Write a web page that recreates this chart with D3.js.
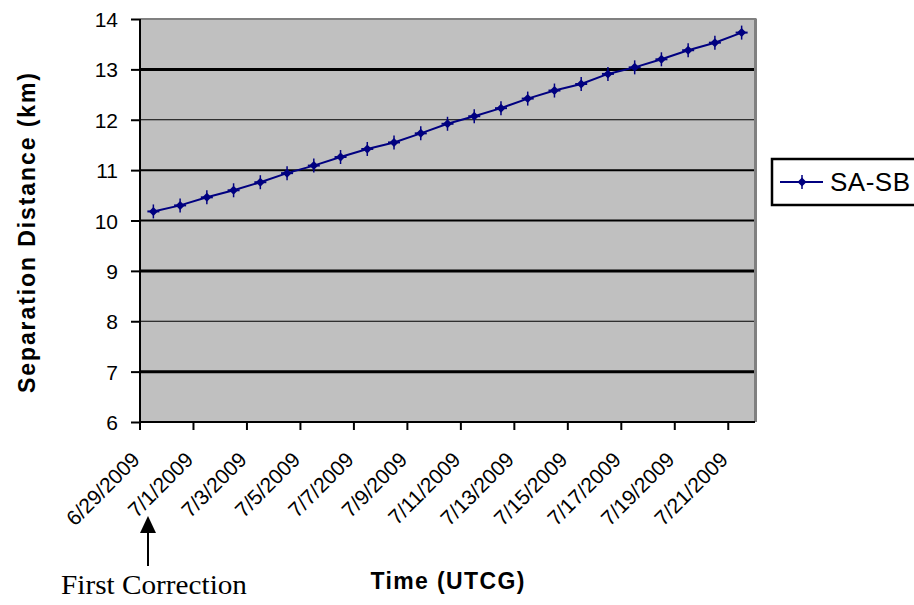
<!DOCTYPE html>
<html>
<head>
<meta charset="utf-8">
<script src="https://cdn.jsdelivr.net/npm/d3@7"></script>
<style>
  html, body { margin: 0; padding: 0; background: #fff; }
  svg { display: block; }
  text { font-family: Arial, "Liberation Sans", sans-serif; }
  text.serif { font-family: "Times New Roman", "Liberation Serif", serif; }
</style>
</head>
<body>
<svg id="chart" width="914" height="605"></svg>
<script>
// ---- data ----
const categories = [
  "6/29/2009","6/30/2009","7/1/2009","7/2/2009","7/3/2009","7/4/2009","7/5/2009",
  "7/6/2009","7/7/2009","7/8/2009","7/9/2009","7/10/2009","7/11/2009","7/12/2009",
  "7/13/2009","7/14/2009","7/15/2009","7/16/2009","7/17/2009","7/18/2009","7/19/2009",
  "7/20/2009","7/21/2009"
];
const separation = [
  10.18, 10.30, 10.46, 10.60, 10.76, 10.94, 11.09, 11.26, 11.42, 11.55, 11.73, 11.92,
  12.07, 12.23, 12.42, 12.58, 12.71, 12.91, 13.04, 13.20, 13.38, 13.53, 13.73
];
const yTicks = [6, 7, 8, 9, 10, 11, 12, 13, 14];
const xTickLabels = categories.filter((d, i) => i % 2 === 0);
const seriesName = "SA-SB";
const xTitle = "Time (UTCG)";
const yTitle = "Separation Distance (km)";
const note = "First Correction";

// ---- layout ----
const svg = d3.select("#chart");
const L = 140, R = 755, T = 19, B = 422;
const navy = "#000080";

const x = d3.scaleBand().domain(categories).range([L, R]).paddingInner(0).paddingOuter(0);
const y = d3.scaleLinear().domain([6, 14]).range([B, T]);
const bw = x.bandwidth();

// plot background
svg.append("rect").attr("x", L).attr("y", T).attr("width", R - L).attr("height", B - T)
  .attr("fill", "#c0c0c0");

// gridlines (rendering weights vary in the original)
const gridW = {7: 3, 8: 1, 9: 3, 10: 2, 11: 2, 12: 1, 13: 3};
svg.append("g").selectAll("line").data(yTicks.filter(d => d > 6 && d < 14)).join("line")
  .attr("x1", L).attr("x2", R)
  .attr("y1", d => y(d)).attr("y2", d => y(d))
  .attr("stroke", "#000").attr("stroke-width", d => gridW[d]);

// top & right border (gray)
svg.append("line").attr("x1", L).attr("x2", R + 1.5).attr("y1", T).attr("y2", T)
  .attr("stroke", "#808080").attr("stroke-width", 2);
svg.append("line").attr("x1", R + 0.5).attr("x2", R + 0.5).attr("y1", T).attr("y2", B)
  .attr("stroke", "#808080").attr("stroke-width", 3);

// y axis
const yAxis = svg.append("g").attr("transform", `translate(${L},0)`)
  .call(d3.axisLeft(y).tickValues(yTicks).tickSize(9).tickPadding(13).tickFormat(d3.format("d")));
yAxis.select(".domain").attr("stroke", "#000").attr("stroke-width", 2).attr("d", `M0,${T}V${B + 8}`);
yAxis.selectAll(".tick line").attr("stroke", "#000").attr("stroke-width", 2);
yAxis.selectAll(".tick text").attr("font-size", 21).attr("fill", "#000")
  .style("font-family", "Arial, 'Liberation Sans', sans-serif").attr("dy", "0.36em");

// x axis
const xAxis = svg.append("g").attr("transform", `translate(0,${B})`)
  .call(d3.axisBottom(x).tickValues(xTickLabels).tickSize(8).tickPadding(0));
xAxis.select(".domain").attr("stroke", "#000").attr("stroke-width", 2).attr("d", `M${L - 1},0H${R}`);
xAxis.selectAll(".tick line").attr("stroke", "#000").attr("stroke-width", 2)
  .attr("x1", -bw / 2).attr("x2", -bw / 2);
xAxis.selectAll(".tick text")
  .attr("font-size", 21).attr("fill", "#000")
  .style("font-family", "Arial, 'Liberation Sans', sans-serif")
  .attr("text-anchor", "end").attr("dy", 0).attr("y", 0)
  .attr("transform", `translate(${-bw / 2 + 1},39) rotate(-45)`);

// series line
const line = d3.line().x((d, i) => x(categories[i]) + bw / 2).y(d => y(d));
svg.append("path").datum(separation).attr("d", line)
  .attr("fill", "none").attr("stroke", navy).attr("stroke-width", 2);

// markers
function marker(g) {
  g.append("path").attr("d", "M0,-4.5L4.5,0L0,4.5L-4.5,0Z").attr("fill", navy);
  g.append("line").attr("x1", 0).attr("x2", 0).attr("y1", -7).attr("y2", 7)
    .attr("stroke", navy).attr("stroke-width", 1.5);
  g.append("line").attr("x1", -6).attr("x2", 6).attr("y1", 0).attr("y2", 0)
    .attr("stroke", navy).attr("stroke-width", 2);
}
svg.append("g").selectAll("g").data(separation).join("g")
  .attr("transform", (d, i) => `translate(${x(categories[i]) + bw / 2},${y(d)})`)
  .each(function () { marker(d3.select(this)); });

// axis titles
svg.append("text").attr("x", (L + R) / 2).attr("y", 589).attr("text-anchor", "middle")
  .attr("font-size", 23).attr("font-weight", "bold").attr("textLength", 154)
  .attr("lengthAdjust", "spacing").text(xTitle);
svg.append("text").attr("transform", "translate(35,233) rotate(-90)").attr("text-anchor", "middle")
  .attr("font-size", 23).attr("font-weight", "bold").attr("textLength", 320)
  .attr("lengthAdjust", "spacing").text(yTitle);

// legend
svg.append("rect").attr("x", 772).attr("y", 159).attr("width", 150).attr("height", 46)
  .attr("fill", "#fff").attr("stroke", "#000").attr("stroke-width", 2.5);
svg.append("line").attr("x1", 780).attr("x2", 823).attr("y1", 182).attr("y2", 182)
  .attr("stroke", navy).attr("stroke-width", 2);
marker(svg.append("g").attr("transform", "translate(802,182)"));
svg.append("text").attr("x", 830).attr("y", 191).attr("font-size", 26)
  .attr("textLength", 80).attr("lengthAdjust", "spacing").text(seriesName);

// annotation
svg.append("line").attr("x1", 148).attr("x2", 148).attr("y1", 530).attr("y2", 566)
  .attr("stroke", "#000").attr("stroke-width", 2);
svg.append("path").attr("d", "M148,516L156,533L140,533Z").attr("fill", "#000");
svg.append("text").attr("class", "serif").attr("x", 61).attr("y", 594)
  .attr("font-size", 28).attr("textLength", 186).attr("lengthAdjust", "spacingAndGlyphs")
  .text(note);
</script>
</body>
</html>
